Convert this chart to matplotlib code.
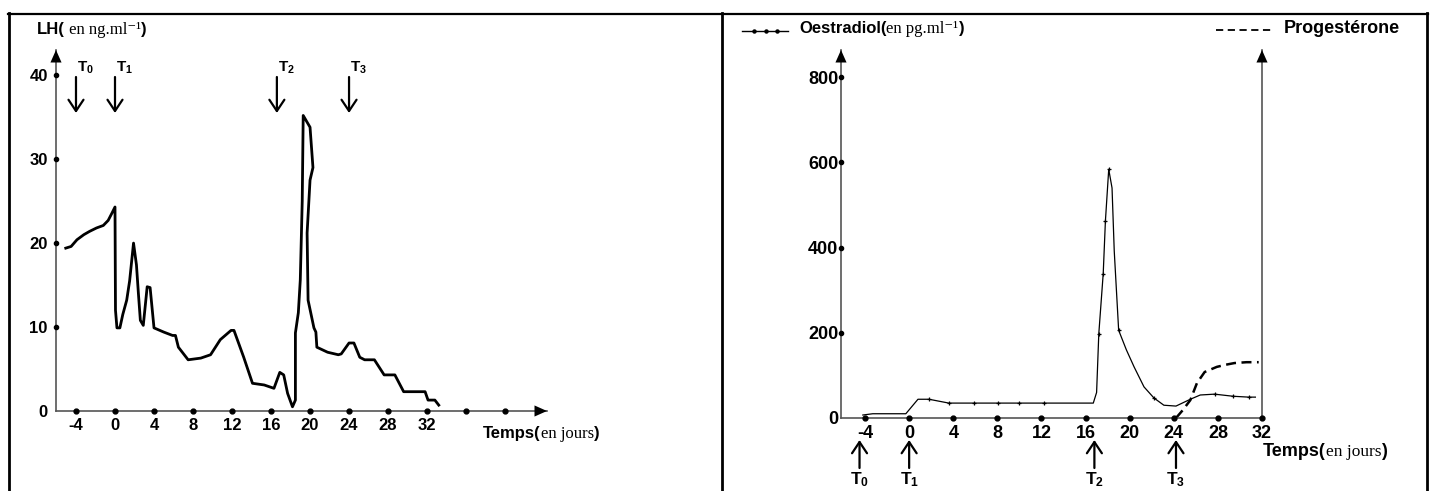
import matplotlib
matplotlib.use("Agg")
import matplotlib.pyplot as plt
from matplotlib.lines import Line2D
from matplotlib import transforms

# --- LH (ng/ml), left panel ---
lh_days = [-5.05, -4.5, -3.9, -3.2, -2.6, -1.9, -1.2, -0.7, -0.3, 0.0, 0.05, 0.2, 0.5,
           0.8, 1.2, 1.5, 1.9, 2.2, 2.4, 2.6, 2.9, 3.3, 3.6, 4.0, 5.0, 5.9, 6.2, 6.5,
           7.5, 8.8, 9.8, 10.8, 11.9, 12.2, 13.2, 14.1, 15.3, 16.3, 16.9, 17.3, 17.7,
           18.2, 18.5, 18.5, 18.8, 19.0, 19.2, 19.3, 20.0, 20.3, 20.0, 19.7, 19.8,
           20.4, 20.6, 20.7, 21.8, 22.9, 23.2, 24.0, 24.5, 25.1, 25.6, 26.6, 27.6,
           28.7, 29.6, 31.8, 32.1, 32.8, 33.2]
lh_vals = [19.4, 19.6, 20.4, 21.0, 21.4, 21.8, 22.1, 22.7, 23.6, 24.3, 12.0, 9.9, 9.9,
           11.5, 13.2, 15.5, 20.0, 17.4, 14.0, 10.8, 10.2, 14.8, 14.7, 9.9, 9.4, 9.0, 9.0, 7.6,
           6.1, 6.3, 6.7, 8.5, 9.6, 9.6, 6.4, 3.3, 3.1, 2.7, 4.6, 4.3, 2.1,
           0.5, 1.3, 9.3, 11.7, 15.6, 25.0, 35.2, 33.8, 29.0, 27.5, 21.2, 13.2,
           9.9, 9.4, 7.6, 7.0, 6.7, 6.8, 8.1, 8.1, 6.4, 6.1, 6.1, 4.3,
           4.3, 2.3, 2.3, 1.3, 1.3, 0.7]
lh_xticks = [-4, 0, 4, 8, 12, 16, 20, 24, 28, 32]
lh_xdots = [-4, 0, 4, 8, 12, 16, 20, 24, 28, 32, 36, 40]
lh_yticks = [0, 10, 20, 30, 40]
lh_t_days = [-4, 0, 16.6, 24]

# --- Oestradiol (pg/ml) and progesterone, right panel ---
oe_days = [-4.2, -3.3, -0.3, 0.8, 1.8, 3.6, 5.9, 8.1, 10.0, 12.2, 14.0, 16.7, 17.0,
           17.2, 17.6, 17.8, 18.1, 18.4, 18.6, 19.0, 19.7, 20.4, 21.3, 22.2, 23.1,
           24.2, 25.5, 26.4, 27.7, 29.4, 30.8, 31.4]
oe_vals = [7, 10, 10, 44, 44, 35, 35, 35, 35, 35, 35, 35, 60,
           198, 339, 463, 584, 540, 392, 206, 160, 120, 73, 47, 30,
           28, 44, 54, 56, 51, 49, 49]
oe_marked = [1.8, 3.6, 5.9, 8.1, 10.0, 12.2, 17.2, 17.6, 17.8, 18.1, 19.0, 22.2, 27.7, 29.4, 30.8]
pg_days = [24.2, 24.8, 25.5, 26.1, 26.8, 27.9, 28.7, 29.5, 30.6, 31.7]
pg_vals = [0, 18, 42, 82, 108, 120, 125, 129, 131, 131]
oe_xticks = [-4, 0, 4, 8, 12, 16, 20, 24, 28, 32]
oe_yticks = [0, 200, 400, 600, 800]
oe_t_days = [-4.5, 0, 16.8, 24.2]

t_names = [r"$\mathbf{T_0}$", r"$\mathbf{T_1}$", r"$\mathbf{T_2}$", r"$\mathbf{T_3}$"]

W, H = 1432, 491
AXC = "#555555"
SANS = ["Liberation Sans", "DejaVu Sans"]
SERIF = ["Liberation Serif", "DejaVu Serif"]
plt.rcParams["font.family"] = SANS
plt.rcParams["mathtext.fontset"] = "custom"
plt.rcParams["mathtext.bf"] = "Liberation Sans:bold"
plt.rcParams["mathtext.rm"] = "Liberation Sans"

fig = plt.figure(figsize=(W / 100, H / 100), dpi=100)


def box(l, t, r, b):
    return [l / W, 1 - b / H, (r - l) / W, (b - t) / H]


def hline(x0, x1, y, lw=1.5):
    fig.add_artist(Line2D([x0 / W, x1 / W], [1 - y / H, 1 - y / H], color="k", lw=lw,
                          transform=fig.transFigure))


def vline(x, y0, y1, lw=1.5):
    fig.add_artist(Line2D([x / W, x / W], [1 - y0 / H, 1 - y1 / H], color="k", lw=lw,
                          transform=fig.transFigure))


def rich(x, y, pieces):
    r = fig.canvas.get_renderer()
    for s, kw in pieces:
        t = fig.text(x / W, 1 - y / H, s, va="baseline", ha="left", **kw)
        x += t.get_window_extent(r).width


def axis_arrow(ax, xy, xytext):
    ax.annotate("", xy=xy, xytext=xytext, xycoords="axes fraction",
                arrowprops=dict(arrowstyle="-|>,head_length=0.9,head_width=0.4",
                                mutation_scale=10, color="k", lw=0,
                                shrinkA=0, shrinkB=0), annotation_clip=False)


def style_axes(ax, right=False):
    ax.patch.set_alpha(0)
    ax.spines["top"].set_visible(False)
    ax.spines["right"].set_visible(right)
    for s in ["left", "bottom", "right"]:
        ax.spines[s].set_color(AXC)
        ax.spines[s].set_linewidth(1.2)


# table frame
hline(8, 1428, 13.5, 1.6)
vline(8.5, 13, 491, 2)
vline(722, 13, 491, 2)
vline(1427, 13, 491, 2)

# ---------------- left panel ----------------
ax1 = fig.add_axes(box(56, 50, 547, 411))
ax1.set_xlim(-6.05, 44.3)
ax1.set_ylim(0, 43)
style_axes(ax1)
ax1.plot(lh_days, lh_vals, color="k", lw=2.0, solid_joinstyle="round")
ax1.plot(lh_xdots, [0] * len(lh_xdots), "o", color="k", ms=3.5, clip_on=False, zorder=5)
ax1.plot([-6.05] * 4, lh_yticks[1:], "o", color="k", ms=3, clip_on=False, zorder=5)
ax1.set_xticks(lh_xticks, [str(v) for v in lh_xticks])
ax1.set_yticks(lh_yticks, [str(v) for v in lh_yticks])
ax1.tick_params(axis="x", length=0, pad=5, labelsize=12)
ax1.tick_params(axis="y", length=0, pad=6, labelsize=12)
for lab in ax1.get_xticklabels() + ax1.get_yticklabels():
    lab.set_fontweight("bold")
axis_arrow(ax1, (0, 1), (0, 0.95))
axis_arrow(ax1, (1, 0), (0.97, 0))

tr1 = transforms.blended_transform_factory(ax1.transData, fig.transFigure)
for d, name in zip(lh_t_days, t_names):
    ax1.annotate("", xy=(d, 1 - 113 / H), xytext=(d, 1 - 77 / H), xycoords=tr1,
                 arrowprops=dict(arrowstyle="->,head_length=0.45,head_width=0.3",
                                 mutation_scale=18, color="k", lw=1.6,
                                 shrinkA=0, shrinkB=0), annotation_clip=False)
    ax1.text(d + 0.1, 1 - 68 / H, name, transform=tr1, ha="left", va="center",
             fontsize=11)

bold12 = dict(fontsize=12, fontweight="bold", family=SANS)
serif12 = dict(fontsize=12, family=SERIF)
rich(37, 34, [("LH(", bold12), (" en ng.ml⁻¹", serif12), (")", bold12)])
rich(483, 438, [("Temps(", bold12), ("en jours", serif12), (")", bold12)])

# ---------------- right panel ----------------
ax2 = fig.add_axes(box(841, 50, 1262, 418))
ax2.set_xlim(-6.18, 32)
ax2.set_ylim(0, 864)
style_axes(ax2, right=True)
mark_idx = [i for i, d in enumerate(oe_days) if d in oe_marked]
ax2.plot(oe_days, oe_vals, color="k", lw=0.9, marker="+", ms=3.5, mew=0.9,
         markevery=mark_idx)
ax2.plot(pg_days, pg_vals, color="k", lw=1.8, dashes=(4, 2.2))
ax2.plot(oe_xticks, [0] * len(oe_xticks), "o", color="k", ms=3.5, clip_on=False, zorder=5)
ax2.plot([-6.18] * 4, oe_yticks[1:], "o", color="k", ms=3, clip_on=False, zorder=5)
ax2.set_xticks(oe_xticks, [str(v) for v in oe_xticks])
ax2.set_yticks(oe_yticks, [str(v) for v in oe_yticks])
ax2.tick_params(axis="x", length=0, pad=5, labelsize=13)
ax2.tick_params(axis="y", length=0, pad=2, labelsize=13)
for lab in ax2.get_xticklabels() + ax2.get_yticklabels():
    lab.set_fontweight("bold")
axis_arrow(ax2, (0, 1), (0, 0.95))
axis_arrow(ax2, (1, 1), (1, 0.95))

tr2 = transforms.blended_transform_factory(ax2.transData, fig.transFigure)
for d, name in zip(oe_t_days, t_names):
    ax2.annotate("", xy=(d, 1 - 440 / H), xytext=(d, 1 - 468 / H), xycoords=tr2,
                 arrowprops=dict(arrowstyle="->,head_length=0.45,head_width=0.3",
                                 mutation_scale=18, color="k", lw=1.6,
                                 shrinkA=0, shrinkB=0), annotation_clip=False)
    ax2.text(d, 1 - 480 / H, name, transform=tr2, ha="center", va="center",
             fontsize=12.5)

bold13 = dict(fontsize=13, fontweight="bold", family=SANS)
serif13 = dict(fontsize=12.5, family=SERIF)
rich(1263, 456, [("Temps(", bold13), ("en jours", serif13), (")", bold13)])

# legend entries
fig.add_artist(Line2D([742 / W, 788 / W], [1 - 31 / H] * 2, color="k", lw=1,
                      transform=fig.transFigure))
fig.add_artist(Line2D([754 / W, 766 / W, 777 / W], [1 - 31 / H] * 3, color="k", lw=0,
                      marker="o", ms=2.2, transform=fig.transFigure))
rich(799, 33, [("Oestradiol(", bold12), ("en pg.ml⁻¹", serif12), (")", bold12)])
fig.add_artist(Line2D([1216 / W, 1271 / W], [1 - 30 / H] * 2, color="k", lw=1.3,
                      dashes=(4, 2.5), transform=fig.transFigure))
rich(1284, 33, [("Progestérone", bold13)])

fig.savefig("out.png", dpi=100)
